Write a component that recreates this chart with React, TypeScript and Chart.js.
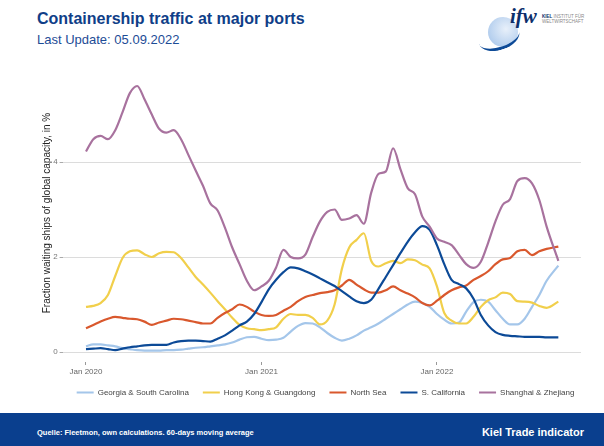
import React, { useEffect, useRef } from "react";
import { Chart, registerables } from "chart.js";

Chart.register(...registerables);

// months since Jan 2020
const months = [
  0, 0.5, 1, 1.5, 2, 2.5, 3, 3.5, 4, 4.5, 5, 5.5, 6, 6.5, 7, 7.5, 8, 8.5, 9, 9.5,
  10, 10.5, 11, 11.5, 12, 12.5, 13, 13.5, 14, 14.5, 15, 15.5, 16, 16.5, 17, 17.5,
  18, 18.5, 19, 19.5, 20, 20.5, 21, 21.5, 22, 22.5, 23, 23.5, 24, 24.5, 25, 25.5,
  26, 26.5, 27, 27.5, 28, 28.5, 29, 29.5, 30, 30.5, 31, 31.5, 32.3,
];

const georgia = [
  0.12, 0.16, 0.16, 0.14, 0.12, 0.08, 0.06, 0.04, 0.03, 0.03, 0.03, 0.04, 0.04, 0.05, 0.07, 0.09,
  0.1, 0.12, 0.14, 0.16, 0.2, 0.26, 0.31, 0.32, 0.28, 0.25, 0.26, 0.3, 0.43, 0.55, 0.61, 0.6,
  0.52, 0.4, 0.3, 0.24, 0.28, 0.35, 0.45, 0.52, 0.6, 0.7, 0.8, 0.9, 1.0, 1.06, 1.03, 0.95,
  0.8, 0.68, 0.6, 0.62, 0.85, 1.05, 1.1, 1.06, 0.88, 0.7, 0.58, 0.58, 0.7, 0.95, 1.2, 1.5, 1.82,
];

const hongKong = [
  0.95, 0.97, 1.03, 1.2, 1.6, 1.98, 2.12, 2.14, 2.06, 2.0, 2.08, 2.11, 2.1, 1.98, 1.78, 1.58,
  1.42, 1.25, 1.07, 0.9, 0.72, 0.57, 0.5, 0.48, 0.46, 0.48, 0.52, 0.7, 0.8, 0.78, 0.78, 0.72,
  0.58, 0.66, 1.0, 1.75, 2.2, 2.36, 2.5, 1.92, 1.8, 1.87, 1.92, 1.87, 1.95, 1.93, 1.84, 1.76,
  1.38, 0.82, 0.66, 0.6, 0.6, 0.74, 0.95, 1.09, 1.15, 1.25, 1.22, 1.07, 1.06, 1.04, 0.97, 0.93, 1.06,
];

const northSea = [
  0.5, 0.57, 0.64, 0.7, 0.74, 0.72, 0.7, 0.69, 0.64, 0.57, 0.62, 0.66, 0.7, 0.69, 0.66, 0.63,
  0.6, 0.6, 0.72, 0.82, 0.9, 1.0, 0.95, 0.85, 0.78, 0.76, 0.78, 0.87, 0.95, 1.07, 1.16, 1.2,
  1.24, 1.26, 1.3, 1.4, 1.52, 1.42, 1.32, 1.25, 1.25, 1.3, 1.38, 1.3, 1.23, 1.15, 1.03, 0.98,
  1.08, 1.2, 1.3, 1.36, 1.4, 1.52, 1.6, 1.7, 1.85, 1.95, 1.98, 2.12, 2.15, 2.04, 2.12, 2.17, 2.22,
];

const sCalifornia = [
  0.06, 0.07, 0.08, 0.06, 0.04, 0.07, 0.1, 0.12, 0.14, 0.15, 0.15, 0.15, 0.2, 0.23, 0.24, 0.24,
  0.23, 0.22, 0.28, 0.35, 0.45, 0.56, 0.64, 0.8, 1.05, 1.32, 1.52, 1.68, 1.78, 1.76, 1.7, 1.63,
  1.55, 1.47, 1.39, 1.28, 1.17, 1.07, 1.03, 1.1, 1.33, 1.58, 1.83, 2.08, 2.32, 2.52, 2.65, 2.57,
  2.25, 1.85, 1.52, 1.43, 1.34, 1.12, 0.78, 0.56, 0.42, 0.36, 0.34, 0.33, 0.32, 0.32, 0.32, 0.31, 0.31,
];

const shanghai = [
  4.22, 4.48, 4.55, 4.48, 4.67, 5.05, 5.45, 5.6, 5.32, 5.0, 4.7, 4.62, 4.67, 4.48, 4.15, 3.82,
  3.5, 3.13, 2.98, 2.62, 2.2, 1.85, 1.5, 1.3, 1.38, 1.5, 1.78, 2.15, 2.0, 1.97, 2.05, 2.42,
  2.75, 2.95, 3.0, 2.78, 2.81, 2.88, 2.7, 3.35, 3.75, 3.8, 4.29, 3.85, 3.45, 3.32, 2.85, 2.64,
  2.39, 2.32, 2.25, 2.05, 1.85, 1.77, 1.9, 2.3, 2.75, 3.1, 3.22, 3.6, 3.66, 3.55, 3.2, 2.64, 1.92,
];

const seriesNames = [
  "Georgia & South Carolina",
  "Hong Kong & Guangdong",
  "North Sea",
  "S. California",
  "Shanghai & Zhejiang",
];
const seriesValues = [georgia, hongKong, northSea, sCalifornia, shanghai];
const seriesColors = ["#a4c6ea", "#f1cf4b", "#d9582d", "#0c4a97", "#a8729e"];

const xTickMonths = [0, 12, 24];
const xTickLabels = ["Jan 2020", "Jan 2021", "Jan 2022"];
const yTickValues = [0, 2, 4];

const FONT = "'Liberation Sans', Arial, Helvetica, sans-serif";

const legendShift = {
  id: "legendShift",
  afterLayout(chart: any) {
    if (chart.legend) {
      chart.legend.left += 35;
      chart.legend.right += 35;
    }
  },
};

export default function App() {
  const ref = useRef<HTMLCanvasElement>(null);

  useEffect(() => {
    if (!ref.current) return;
    Chart.defaults.font.family = FONT;
    const chart = new Chart(ref.current, {
      type: "line",
      data: {
        datasets: seriesNames.map((name, i) => ({
          label: name,
          data: months.map((m, j) => ({ x: m, y: seriesValues[i][j] })),
          borderColor: seriesColors[i],
          backgroundColor: seriesColors[i],
          borderWidth: 2.2,
          pointRadius: 0,
          cubicInterpolationMode: "monotone" as const,
          fill: false,
          order: seriesNames.length - i,
        })),
      },
      options: {
        responsive: false,
        animation: false,
        devicePixelRatio: 1,
        layout: { padding: { top: 10, bottom: 6.5, left: 0, right: 23 } },
        plugins: {
          tooltip: { enabled: false },
          legend: {
            position: "bottom",
            labels: {
              boxWidth: 17,
              boxHeight: 2,
              padding: 14,
              color: "#444",
              font: { size: 8 },
              generateLabels: (c: any) =>
                c.data.datasets.map((d: any, i: number) => ({
                  text: d.label,
                  fillStyle: d.borderColor,
                  strokeStyle: d.borderColor,
                  lineWidth: 0,
                  hidden: false,
                  datasetIndex: i,
                  fontColor: "#444",
                })),
            },
          },
        },
        scales: {
          x: {
            type: "linear",
            min: -1.6,
            max: 33.85,
            afterBuildTicks: (s: any) => {
              s.ticks = xTickMonths.map((v) => ({ value: v }));
            },
            afterFit: (s: any) => {
              s.height = 18.5;
            },
            grid: {
              drawOnChartArea: false,
              drawTicks: true,
              tickLength: 9,
              tickColor: "#999",
              tickBorderDash: [0, 6, 3, 20],
            },
            border: { display: false },
            ticks: {
              padding: 2,
              color: "#666",
              font: { size: 8 },
              maxRotation: 0,
              autoSkip: false,
              callback: (v: any) => {
                const k = xTickMonths.indexOf(Number(v));
                return k >= 0 ? xTickLabels[k] : "";
              },
            },
          },
          y: {
            type: "linear",
            min: -0.0842,
            max: 5.937,
            afterBuildTicks: (s: any) => {
              s.ticks = yTickValues.map((v) => ({ value: v }));
            },
            afterFit: (s: any) => {
              s.width = 62.6;
            },
            grid: { color: "#dcdcdc", lineWidth: 1, tickLength: 3, tickColor: "#aaa" },
            border: { display: false },
            ticks: { padding: 2, color: "#777", font: { size: 8 } },
            title: {
              display: true,
              text: "Fraction waiting ships of global capacity, in %",
              color: "#222",
              font: { size: 10 },
              padding: { top: 41, bottom: 0 },
            },
          },
        },
      },
      plugins: [legendShift],
    } as any);
    return () => chart.destroy();
  }, []);

  return (
    <div
      style={{
        position: "absolute",
        left: 0,
        top: 0,
        width: 604,
        height: 446,
        background: "#fff",
        overflow: "hidden",
        fontFamily: FONT,
      }}
    >
      <div
        style={{
          position: "absolute",
          left: 37,
          top: 10,
          fontSize: 16,
          lineHeight: "18px",
          fontWeight: "bold",
          color: "#0f3e88",
          whiteSpace: "nowrap",
        }}
      >
        Containership traffic at major ports
      </div>
      <div
        style={{
          position: "absolute",
          left: 37,
          top: 32,
          fontSize: 13,
          lineHeight: "15px",
          color: "#1d4c96",
          whiteSpace: "nowrap",
        }}
      >
        Last Update: 05.09.2022
      </div>

      {/* logo */}
      <div
        style={{
          position: "absolute",
          left: 488,
          top: 17,
          width: 30,
          height: 30,
          borderRadius: "50%",
          background: "radial-gradient(circle at 60% 40%, #e8f0fa 0%, #b5cfee 70%, #9dbde6 100%)",
        }}
      />
      <div
        style={{
          position: "absolute",
          left: 478,
          top: 25,
          width: 42,
          height: 22,
          borderRadius: "50%",
          borderBottom: "3px solid #0d4a97",
          transform: "rotate(-18deg)",
        }}
      />
      <div
        style={{
          position: "absolute",
          left: 510,
          top: 4,
          fontSize: 21,
          lineHeight: "24px",
          fontStyle: "italic",
          fontWeight: "bold",
          fontFamily: "'Liberation Serif', 'DejaVu Serif', serif",
          color: "#0d2f6b",
        }}
      >
        ifw
      </div>
      <div
        style={{
          position: "absolute",
          left: 542,
          top: 14,
          fontSize: 4.5,
          lineHeight: "5px",
          color: "#888",
          whiteSpace: "nowrap",
        }}
      >
        <b style={{ color: "#0d2f6b" }}>KIEL</b> INSTITUT FÜR
        <br />
        WELTWIRTSCHAFT
      </div>

      <canvas
        ref={ref}
        width={604}
        height={353}
        style={{ position: "absolute", left: 0, top: 60, width: 604, height: 353, display: "block" }}
      />

      <div
        style={{
          position: "absolute",
          left: 0,
          top: 413,
          width: 604,
          height: 33,
          background: "#0a3f8e",
        }}
      />
      <div
        style={{
          position: "absolute",
          left: 37,
          top: 428,
          fontSize: 7.5,
          lineHeight: "9px",
          fontWeight: "bold",
          color: "#fff",
          whiteSpace: "nowrap",
        }}
      >
        Quelle: Fleetmon, own calculations. 60-days moving average
      </div>
      <div
        style={{
          position: "absolute",
          right: 20,
          top: 426,
          fontSize: 11,
          lineHeight: "13px",
          fontWeight: "bold",
          color: "#fff",
          whiteSpace: "nowrap",
        }}
      >
        Kiel Trade indicator
      </div>
    </div>
  );
}
